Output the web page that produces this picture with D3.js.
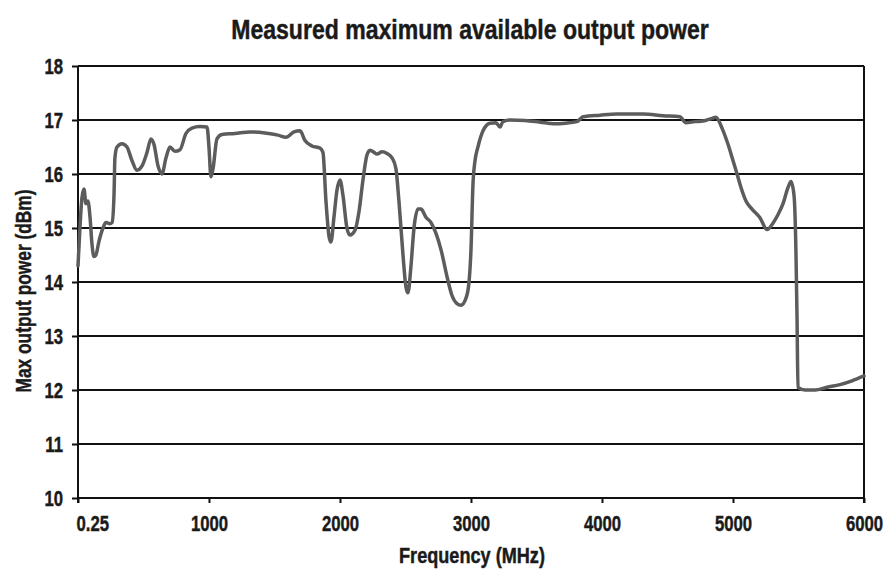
<!DOCTYPE html>
<html>
<head>
<meta charset="utf-8">
<script src="https://cdn.jsdelivr.net/npm/d3@7/dist/d3.min.js"></script>
<style>
  html, body { margin: 0; padding: 0; background: #fff; }
  svg { display: block; }
  text { font-family: "Liberation Sans", Arial, sans-serif; font-weight: bold; fill: #1a1a1a;
         stroke: #1a1a1a; stroke-width: 0.45; paint-order: stroke; }
</style>
</head>
<body>
<svg id="chart" width="891" height="573"></svg>
<script>
// ---- data ----
const titleText = "Measured maximum available output power";
const xAxisTitle = "Frequency (MHz)";
const yAxisTitle = "Max output power (dBm)";
const xTickValues = [0.25, 1000, 2000, 3000, 4000, 5000, 6000];
const xTickLabels = ["0.25", "1000", "2000", "3000", "4000", "5000", "6000"];
const yTickValues = [10, 11, 12, 13, 14, 15, 16, 17, 18];

const freqMHz = [
  0.25, 15, 30, 46, 61, 76, 92, 107, 122, 137, 160, 191, 214, 244, 260, 275, 282, 298,
  336, 374, 412, 450, 489, 527, 557, 580, 611, 641, 672, 702, 740, 779, 824, 870, 931, 985,
  1000, 1015, 1031, 1061, 1099, 1198, 1313, 1427, 1527, 1588, 1649, 1695, 1733, 1786, 1847,
  1870, 1893, 1916, 1931, 1954, 1977, 2000, 2023, 2053, 2076, 2115, 2145, 2176, 2206, 2229,
  2260, 2282, 2321, 2359, 2397, 2427, 2450, 2481, 2504, 2519, 2542, 2565, 2595, 2618, 2656,
  2695, 2733, 2771, 2817, 2855, 2893, 2924, 2962, 2985, 3000, 3015, 3031, 3053, 3092, 3145,
  3191, 3221, 3244, 3298, 3412, 3527, 3641, 3718, 3809, 3855, 3985, 4115, 4313, 4466, 4595,
  4641, 4710, 4771, 4840, 4870, 4916, 4962, 5000, 5031, 5061, 5099, 5145, 5206, 5260, 5305,
  5344, 5382, 5420, 5443, 5466, 5481, 5489, 5496, 5550, 5626, 5718, 5817, 5908, 6000
];
const powerDBm = [
  14.3, 15.0, 15.55, 15.72, 15.45, 15.5, 15.2, 14.7, 14.47, 14.5, 14.75, 15.0, 15.1, 15.08, 15.1, 15.6, 16.3, 16.5,
  16.56, 16.5, 16.25, 16.07, 16.15, 16.4, 16.65, 16.55, 16.15, 16.0, 16.3, 16.5, 16.42, 16.45, 16.75, 16.85, 16.88, 16.87,
  16.5, 15.95, 16.1, 16.65, 16.73, 16.75, 16.78, 16.76, 16.72, 16.68, 16.78, 16.8, 16.62, 16.52, 16.48,
  16.4, 15.5, 14.85, 14.74, 15.2, 15.7, 15.89, 15.6, 15.0, 14.87, 14.96, 15.3, 15.9, 16.35, 16.44,
  16.4, 16.37, 16.41, 16.38, 16.3, 16.1, 15.5, 14.5, 13.9, 13.8, 14.3, 15.0, 15.35, 15.35, 15.2,
  15.1, 14.9, 14.6, 14.1, 13.75, 13.6, 13.57, 13.7, 14.0, 14.6, 15.8, 16.25, 16.5, 16.8, 16.94,
  16.95, 16.87, 16.97, 17.0, 16.99, 16.96, 16.93, 16.94, 16.97, 17.06, 17.09, 17.11, 17.11, 17.08, 17.06,
  16.95, 16.97, 16.98, 17.03, 17.05, 16.85, 16.55, 16.25, 16.0, 15.75, 15.5, 15.35, 15.19, 14.97, 15.09,
  15.25, 15.45, 15.75, 15.86, 15.6, 14.5, 13.3, 12.05, 12.0, 12.0, 12.05, 12.1, 12.17, 12.26
];

// ---- layout ----
const W = 891, H = 573;
const margin = { top: 66, right: 27, bottom: 75, left: 78 };
const condense = 0.76;
const svg = d3.select("#chart");

const x = d3.scaleLinear().domain([0.25, 6000]).range([margin.left, W - margin.right]);
const y = d3.scaleLinear().domain([10, 18]).range([H - margin.bottom, margin.top]);

// horizontal gridlines
svg.append("g")
  .selectAll("line")
  .data(yTickValues.filter(v => v > 10))
  .join("line")
  .attr("x1", x.range()[0]).attr("x2", x.range()[1])
  .attr("y1", d => y(d)).attr("y2", d => y(d))
  .attr("stroke", "#111").attr("stroke-width", 2);

// right border
svg.append("line")
  .attr("x1", x.range()[1]).attr("x2", x.range()[1])
  .attr("y1", y(18)).attr("y2", y(10) + 5)
  .attr("stroke", "#111").attr("stroke-width", 2);

// y axis
const yAxis = svg.append("g")
  .attr("transform", `translate(${margin.left},0)`)
  .call(d3.axisLeft(y).tickValues(yTickValues).tickFormat(d3.format("d")).tickSize(6).tickPadding(9));
yAxis.attr("font-family", null).attr("font-size", null);
yAxis.select(".domain").attr("stroke", "#111").attr("stroke-width", 2)
  .attr("d", `M0,${y(18)}V${y(10) + 5}`);
yAxis.selectAll(".tick line").attr("stroke", "#111").attr("stroke-width", 2);
yAxis.selectAll(".tick text")
  .attr("font-size", 22).attr("fill", "#1a1a1a")
  .attr("x", -15 / condense)
  .attr("transform", `scale(${condense},1)`);

// x axis
const xAxis = svg.append("g")
  .attr("transform", `translate(0,${H - margin.bottom})`)
  .call(d3.axisBottom(x).tickValues(xTickValues).tickFormat((d, i) => xTickLabels[i]).tickSize(5).tickPadding(12));
xAxis.attr("font-family", null).attr("font-size", null);
xAxis.select(".domain").attr("stroke", "#111").attr("stroke-width", 2)
  .attr("d", `M${x.range()[0]},0H${x.range()[1]}`);
xAxis.selectAll(".tick line").attr("stroke", "#111").attr("stroke-width", 2);
xAxis.selectAll(".tick text")
  .attr("font-size", 22).attr("fill", "#1a1a1a")
  .attr("transform", `scale(${condense},1)`);
xAxis.selectAll(".tick text").filter((d, i) => i === 0)
  .attr("text-anchor", "start").attr("x", -2 / condense);

// data line
const pts = freqMHz.map((f, i) => [f, powerDBm[i]]);
svg.append("path")
  .datum(pts)
  .attr("fill", "none")
  .attr("stroke", "#5c5c5c")
  .attr("stroke-width", 3.5)
  .attr("stroke-linejoin", "round")
  .attr("stroke-linecap", "round")
  .attr("d", d3.line().x(d => x(d[0])).y(d => y(d[1])).curve(d3.curveMonotoneX));

// helper: condensed text fitted to a target width
function fitText(sel, cx, cy, targetW, rotate) {
  const w = sel.node().getComputedTextLength();
  const s = w > 0 ? targetW / w : condense;
  sel.attr("text-anchor", "middle").attr("x", 0).attr("y", 0)
     .attr("transform", `translate(${cx},${cy})${rotate ? " rotate(-90)" : ""} scale(${s},1)`);
}

const title = svg.append("text").attr("font-size", 28).text(titleText);
fitText(title, 470, 39, 478, false);

const xt = svg.append("text").attr("font-size", 22).text(xAxisTitle);
fitText(xt, 472, 563, 146, false);

const yt = svg.append("text").attr("font-size", 22).text(yAxisTitle);
fitText(yt, 31, 291, 203, true);
</script>
</body>
</html>
